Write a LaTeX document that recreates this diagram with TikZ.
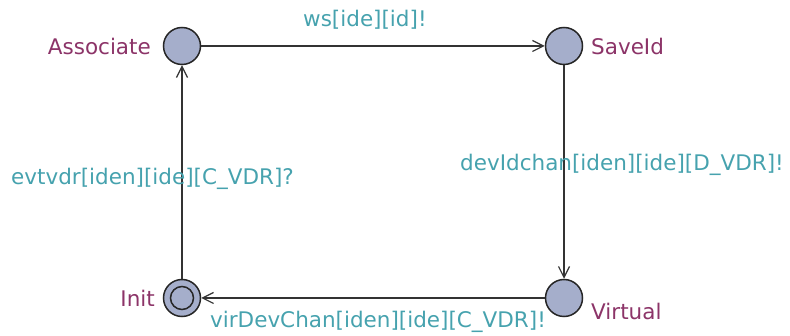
\documentclass[tikz,border=0pt]{standalone}
\usepackage{fontspec}
\setmainfont{DejaVu Sans}
\usetikzlibrary{arrows.meta}
\definecolor{locFill}{RGB}{165,174,203}
\definecolor{locName}{RGB}{140,52,104}
\definecolor{syncLabel}{RGB}{70,162,174}
\begin{document}
\begin{tikzpicture}
% automaton drawn in pixel units, y pointing down
\def\px{1pt}
\providecommand{\locRadius}{18.5pt}
\providecommand{\locLineWidth}{1.5pt}
\providecommand{\edgeLineWidth}{1.3pt}
\providecommand{\labelFontSize}{21.5}
\tikzset{
  loc/.style={circle, draw=black!85, fill=locFill, line width=\locLineWidth,
    minimum size=2*\locRadius, inner sep=0pt},
  locname/.style={text=locName, inner sep=0pt,
    font=\fontsize{\labelFontSize}{\labelFontSize}\selectfont},
  synclabel/.style={text=syncLabel, inner sep=0pt, anchor=west,
    font=\fontsize{\labelFontSize}{\labelFontSize}\selectfont},
  edge/.style={draw=black!80, line width=\edgeLineWidth,
    -{Straight Barb[length=11pt, width=11pt, line width=1.2pt]}},
}
\begin{scope}[x=\px, y=-\px]
  \useasboundingbox (0,0) rectangle (790,336);
  % Locations
  \node[loc] (associate) at (182,46) {};
  \node[loc] (saveid) at (564,46) {};
  \node[loc] (virtual) at (564,298) {};
  \node[loc] (init) at (182,298) {};
  % Init is the initial location: inner ring
  \draw[draw=black!85, line width=\locLineWidth] (init.center) circle (11.5);
  % Location names
  \node[locname, anchor=east] (associate-name) at (151,46) {Associate};
  \node[locname, anchor=west] (saveid-name) at (591,46) {SaveId};
  \node[locname, anchor=west] (virtual-name) at (591,311) {Virtual};
  \node[locname, anchor=east] (init-name) at (155,298) {Init};
  % Edges
  \draw[edge] (associate) -- (saveid);
  \draw[edge] (saveid) -- (virtual);
  \draw[edge] (virtual) -- (init);
  \draw[edge] (init) -- (associate);
  % Synchronisations
  \node[synclabel] (sync-ws) at (303,20) {ws[ide][id]!};
  \node[synclabel] (sync-devid) at (460,165) {devIdchan[iden][ide][D\_VDR]!};
  \node[synclabel] (sync-virdev) at (210,322) {virDevChan[iden][ide][C\_VDR]!};
  \node[synclabel] (sync-evtvdr) at (11,179) {evtvdr[iden][ide][C\_VDR]?};
\end{scope}
\end{tikzpicture}
\end{document}
